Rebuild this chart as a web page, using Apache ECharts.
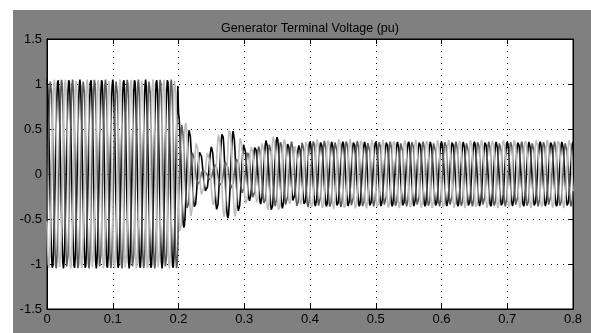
<!DOCTYPE html>
<html>
<head>
<meta charset="utf-8">
<script src="https://cdn.jsdelivr.net/npm/echarts@6/dist/echarts.min.js"></script>
<style>
  html, body { margin: 0; padding: 0; background: #fff; }
  #main { position: absolute; left: 13px; top: 10px; width: 578px; height: 323px; }
</style>
</head>
<body>
<div id="main"></div>
<script>
  // envelope (peak amplitude, pu), one list per phase
  var envTime = [0, 0.1999, 0.2, 0.21, 0.22, 0.23, 0.24, 0.25, 0.26, 0.27, 0.28, 0.29, 0.30, 0.31, 0.32, 0.33, 0.34, 0.35, 0.36, 0.37, 0.38, 0.39, 0.40, 0.45, 0.50, 0.80]
  var envA = [1.05, 1.05, 0.68, 0.58, 0.45, 0.30, 0.18, 0.30, 0.42, 0.48, 0.50, 0.43, 0.34, 0.29, 0.31, 0.36, 0.41, 0.41, 0.38, 0.32, 0.31, 0.34, 0.36, 0.36, 0.36, 0.36]
  var envB = [1.05, 1.05, 0.66, 0.45, 0.28, 0.12, 0.03, 0.08, 0.12, 0.15, 0.16, 0.18, 0.22, 0.26, 0.30, 0.33, 0.35, 0.36, 0.36, 0.36, 0.36, 0.37, 0.37, 0.37, 0.36, 0.36]
  var envC = [1.05, 1.05, 0.68, 0.58, 0.46, 0.31, 0.19, 0.31, 0.43, 0.49, 0.51, 0.44, 0.35, 0.30, 0.32, 0.37, 0.42, 0.42, 0.39, 0.33, 0.32, 0.35, 0.38, 0.39, 0.38, 0.38]
  var freq = 60
  var sampleStep = 0.001
  var phaseNames = ['A', 'B', 'C']
  var phaseAngles = [0, -120, 120]
  var phaseColors = ['#000000', '#5c5c5c', '#bdbdbd']
  var phaseEnv = [envA, envB, envC]
  var xTicks = [0, 0.1, 0.2, 0.3, 0.4, 0.5, 0.6, 0.7, 0.8]
  var yTicks = [-1.5, -1, -0.5, 0, 0.5, 1, 1.5]

  function envAt(env, t) {
    for (var i = 1; i < envTime.length; i++) {
      if (t <= envTime[i]) {
        var k = (t - envTime[i - 1]) / (envTime[i] - envTime[i - 1])
        return env[i - 1] + k * (env[i] - env[i - 1])
      }
    }
    return env[env.length - 1]
  }

  function phaseData(p) {
    var out = []
    var n = Math.round(0.8 / sampleStep)
    for (var i = 0; i <= n; i++) {
      var t = i * sampleStep
      var a = envAt(phaseEnv[p], t)
      out.push([t, a * Math.cos(2 * Math.PI * freq * t + phaseAngles[p] * Math.PI / 180)])
    }
    return out
  }

  var font = '"Liberation Sans Narrow", "Liberation Sans", Arial, sans-serif'
  var chart = echarts.init(document.getElementById('main'))
  var series = []
  phaseNames.forEach(function (name, p) {
    series.push({
      name: name,
      type: 'line',
      data: phaseData(p),
      showSymbol: false,
      sampling: null,
      lineStyle: { color: phaseColors[p], width: 1.6 },
      animation: false
    })
  })

  var tickStyle = { show: true, inside: true, length: 5, lineStyle: { color: '#000' } }
  var gridLine = { show: true, lineStyle: { color: '#000', type: [1, 5], width: 1 } }
  var edge = { show: true, onZero: false, lineStyle: { color: '#000' } }

  chart.setOption({
    backgroundColor: '#808080',
    animation: false,
    title: {
      text: 'Generator Terminal Voltage (pu)',
      left: 297,
      top: 12,
      padding: 0,
      textAlign: 'center',
      textStyle: { fontFamily: font, fontSize: 12.5, fontWeight: 'normal', color: '#000' }
    },
    grid: {
      left: 34, right: 18, top: 29, bottom: 24,
      show: true, backgroundColor: '#fff', borderColor: '#000', borderWidth: 1
    },
    xAxis: [{
      type: 'value', min: xTicks[0], max: xTicks[xTicks.length - 1], interval: 0.1,
      axisLine: edge,
      axisTick: tickStyle,
      splitLine: gridLine,
      axisLabel: { color: '#000', fontFamily: font, fontSize: 13, margin: 4 }
    }, {
      type: 'value', position: 'top', min: xTicks[0], max: xTicks[xTicks.length - 1], interval: 0.1,
      axisLine: edge,
      axisTick: tickStyle,
      splitLine: { show: false },
      axisLabel: { show: false }
    }],
    yAxis: [{
      type: 'value', min: yTicks[0], max: yTicks[yTicks.length - 1], interval: 0.5,
      axisLine: edge,
      axisTick: tickStyle,
      splitLine: gridLine,
      axisLabel: { color: '#000', fontFamily: font, fontSize: 13, margin: 5 }
    }, {
      type: 'value', position: 'right', min: yTicks[0], max: yTicks[yTicks.length - 1], interval: 0.5,
      axisLine: edge,
      axisTick: tickStyle,
      splitLine: { show: false },
      axisLabel: { show: false }
    }],
    series: series
  })
</script>
</body>
</html>
